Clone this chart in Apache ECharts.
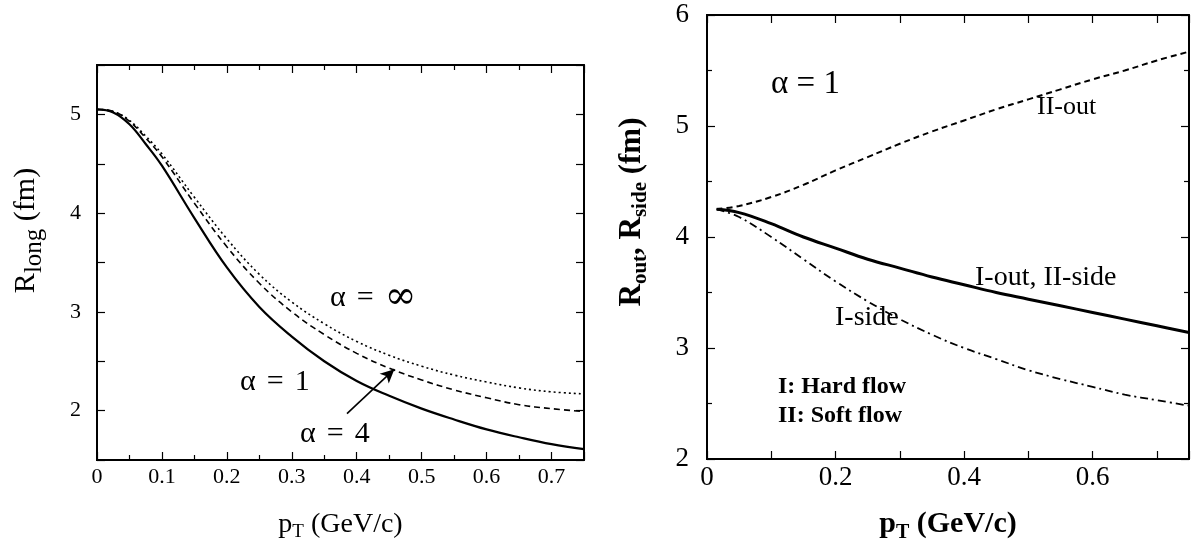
<!DOCTYPE html>
<html><head><meta charset="utf-8">
<script src="https://cdn.jsdelivr.net/npm/echarts@6/dist/echarts.min.js"></script>
<style>html,body{margin:0;padding:0;background:#fff}#c{width:1198px;height:543px}</style>
</head><body><div id="c"></div>
<script>
// ---- data (left panel: R_long vs pT) ----
const pTLeft = [0, 0.025, 0.05, 0.075, 0.1, 0.15, 0.2, 0.25, 0.3, 0.35, 0.4, 0.45, 0.5, 0.55, 0.6, 0.65, 0.7, 0.75];
const rlongAlpha1   = [5.05, 5.02, 4.90, 4.70, 4.48, 3.95, 3.45, 3.05, 2.75, 2.50, 2.30, 2.15, 2.02, 1.91, 1.81, 1.73, 1.66, 1.61];
const rlongAlpha4   = [5.05, 5.03, 4.93, 4.76, 4.57, 4.10, 3.66, 3.29, 3.00, 2.77, 2.58, 2.43, 2.31, 2.21, 2.13, 2.06, 2.02, 1.99];
const rlongAlphaInf = [5.05, 5.03, 4.94, 4.78, 4.60, 4.16, 3.74, 3.38, 3.10, 2.88, 2.70, 2.56, 2.45, 2.36, 2.29, 2.23, 2.19, 2.17];
// ---- data (right panel: R_out, R_side vs pT) ----
const pTRight = [0.015, 0.05, 0.1, 0.15, 0.2, 0.25, 0.3, 0.35, 0.4, 0.45, 0.5, 0.55, 0.6, 0.65, 0.7, 0.75];
const rIIout      = [4.25, 4.28, 4.36, 4.47, 4.60, 4.72, 4.84, 4.95, 5.05, 5.15, 5.24, 5.33, 5.42, 5.50, 5.59, 5.67];
const rIoutIIside = [4.25, 4.22, 4.12, 4.00, 3.90, 3.80, 3.72, 3.64, 3.57, 3.50, 3.44, 3.38, 3.32, 3.26, 3.20, 3.14];
const rIside      = [4.25, 4.18, 4.00, 3.80, 3.60, 3.42, 3.26, 3.12, 3.00, 2.90, 2.80, 2.72, 2.65, 2.58, 2.53, 2.48];
// arrow annotation (data coordinates, left panel)
const arrowFrom = [0.385, 1.97];
const arrowTo = [0.458, 2.42];
// tick labels
const leftXLabels = ['0','0.1','0.2','0.3','0.4','0.5','0.6','0.7'];
const leftYLabels = ['2','3','4','5'];
const rightXLabels = ['0','0.2','0.4','0.6'];
const rightYLabels = ['2','3','4','5','6'];

const pairs = (xs, ys) => xs.map((x, i) => [x, ys[i]]);
const FONT = "'Liberation Serif','DejaVu Serif',serif";
const black = '#000';
const fmtFrom = list => v => { const s = (Math.round(v * 100) / 100).toString(); return list.includes(s) ? s : ''; };

const G = [
  { left: 97, top: 65, width: 487, height: 395 },
  { left: 707, top: 15, width: 482, height: 444 }
];

// three axes per dimension: one carrying labels/name, two carrying inward ticks on both frame edges
function axisSet(dim, gi, min, max, interval, minorN, labels, fontSize, margin, nameObj) {
  const span = dim === 'x' ? G[gi].height : G[gi].width;
  const near = dim === 'x' ? 'bottom' : 'left';
  const far = dim === 'x' ? 'top' : 'right';
  const base = () => ({
    type: 'value', gridIndex: gi, min, max, interval,
    splitLine: { show: false },
    axisLine: { show: true, onZero: false, lineStyle: { color: black, width: 2 } },
    axisTick: { show: false }, minorTick: { show: false },
    axisLabel: { show: false }
  });
  const tickStyle = {
    axisTick: { show: true, inside: false, length: 8, lineStyle: { color: black, width: 1.2 } },
    minorTick: { show: minorN > 0, splitNumber: minorN || 5, length: 5, lineStyle: { color: black, width: 1.2 } }
  };
  const lab = Object.assign(base(), {
    position: near,
    axisLabel: { show: true, color: black, fontFamily: FONT, fontSize, margin, formatter: fmtFrom(labels) }
  }, nameObj);
  const t1 = Object.assign(base(), { position: far, offset: -span }, tickStyle);
  const t2 = Object.assign(base(), { position: near, offset: -span }, tickStyle);
  return [lab, t1, t2];
}

const richTitle = (size, sub, weight) => ({
  r: { fontFamily: FONT, fontSize: size, color: black, fontWeight: weight },
  s: { fontFamily: FONT, fontSize: sub, color: black, fontWeight: weight, padding: [Math.round(size * 0.55), 0, 0, 0] }
});
const nameOf = (text, gap, size, sub, weight, pad) => ({
  name: text, nameLocation: 'middle', nameGap: gap, nameMoveOverlap: false,
  nameTextStyle: { rich: richTitle(size, sub, weight), padding: pad || 0 }
});

const xAxes = [
  ...axisSet('x', 0, 0, 0.75, 0.1, 2, leftXLabels, 22, 6, nameOf('{r|p}{s|T}{r| (GeV/c)}', 48, 28, 19, 'normal')),
  ...axisSet('x', 1, 0, 0.75, 0.1, 0, rightXLabels, 27, 5, nameOf('{r|p}{s|T}{r| (GeV/c)}', 47, 30, 20, 'bold'))
];
const yAxes = [
  ...axisSet('y', 0, 1.5, 5.5, 0.5, 0, leftYLabels, 22, 16, nameOf('{r|R}{s|long}{r| (fm)}', 50, 30, 25, 'normal', [0, 0, 0, 64])),
  ...axisSet('y', 1, 2, 6, 1, 2, rightYLabels, 27, 18, nameOf('{r|R}{s|out}{r|, R}{s|side}{r| (fm)}', 56, 31, 21, 'bold', [0, 0, 0, 50]))
];

const line = (name, gi, data, type, width) => ({
  name, type: 'line', xAxisIndex: gi * 3, yAxisIndex: gi * 3, data, smooth: 0.4, symbol: 'none',
  lineStyle: { color: black, width, type }, z: 3
});

const sAlpha4 = line('α = 4', 0, pairs(pTLeft, rlongAlpha4), [6, 4], 1.6);
sAlpha4.markLine = {
  silent: true, symbol: ['none', 'arrow'], symbolSize: [10, 14],
  label: { show: false },
  lineStyle: { color: black, width: 1.6, type: 'solid' },
  data: [[{ coord: arrowFrom }, { coord: arrowTo }]]
};

const txt = (x, y, text, size, weight) => ({
  type: 'text', left: x, top: y,
  style: { text, fill: black, font: `${weight || 'normal'} ${size}px ${FONT}` }
});
const alphaRich = {
  a: { fontFamily: FONT, fontSize: 30, color: black },
  sp: { fontFamily: FONT, fontSize: 44, color: black },
  b: { fontFamily: "'DejaVu Serif',serif", fontSize: 38, color: black }
};
const rtxt = (x, y, text) => ({
  type: 'text', left: x, top: y,
  style: { text, fill: black, rich: alphaRich }
});

const chart = echarts.init(document.getElementById('c'));
chart.setOption({
  animation: false,
  grid: G.map(g => Object.assign({ containLabel: false, outerBoundsMode: 'none' }, g)),
  xAxis: xAxes,
  yAxis: yAxes,
  series: [
    line('α = 1', 0, pairs(pTLeft, rlongAlpha1), 'solid', 2.2),
    sAlpha4,
    line('α = ∞', 0, pairs(pTLeft, rlongAlphaInf), [2, 3], 1.6),
    line('II-out', 1, pairs(pTRight, rIIout), [6, 4], 2),
    line('I-out, II-side', 1, pairs(pTRight, rIoutIIside), 'solid', 3),
    line('I-side', 1, pairs(pTRight, rIside), [8, 4, 2, 4], 1.8)
  ],
  graphic: [
    rtxt(330, 276, '{a|α}{sp| }{a|=}{sp| }{b|∞}'),
    rtxt(240, 360, '{a|α}{sp| }{a|=}{sp| }{a|1}'),
    rtxt(300, 412, '{a|α}{sp| }{a|=}{sp| }{a|4}'),
    txt(771, 68, 'α = 1', 33),
    txt(1037, 94, 'II-out', 26),
    txt(975, 264, 'I-out, II-side', 28),
    txt(835, 304, 'I-side', 28),
    txt(778, 375, 'I: Hard flow', 24, 'bold'),
    txt(778, 404, 'II: Soft flow', 24, 'bold')
  ]
});
</script></body></html>
